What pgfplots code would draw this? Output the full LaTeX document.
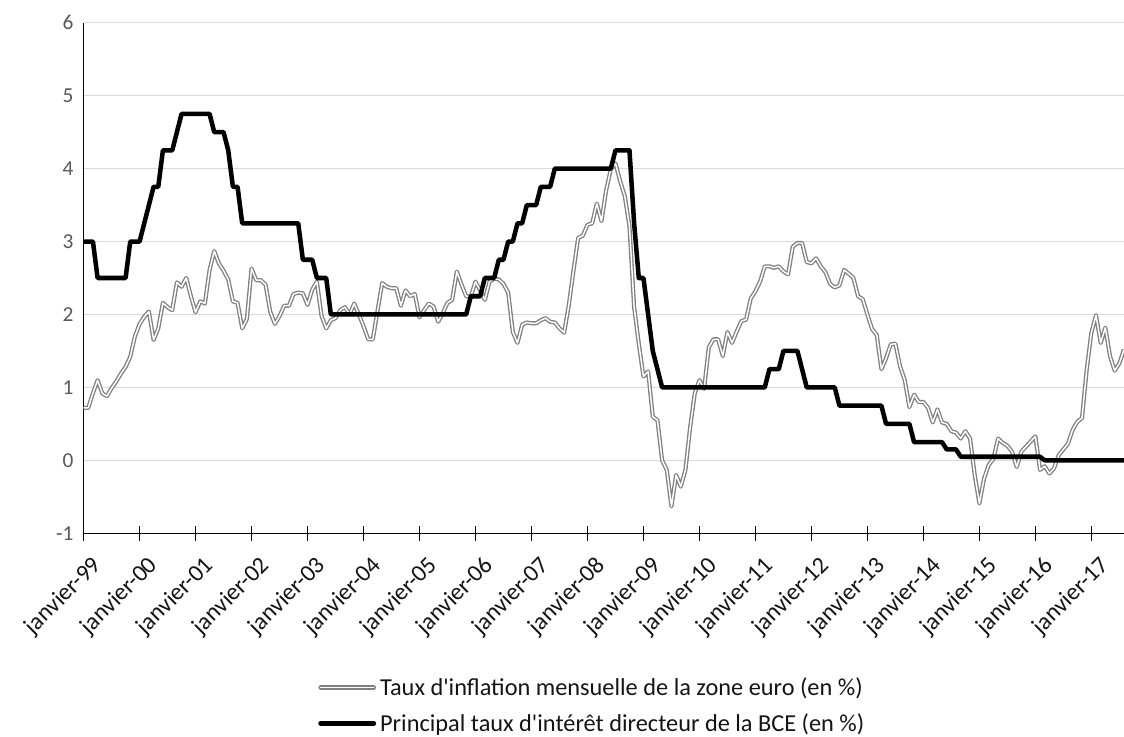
\documentclass[border=0pt]{standalone}
\usepackage{fontspec}
\setmainfont{Carlito}[Ligatures=TeXOff]
\usepackage{pgfplots}
\pgfplotsset{compat=1.18}
\usepackage{pgfplotstable}
\definecolor{infgray}{RGB}{128,128,128}
\definecolor{gridgray}{RGB}{217,217,217}
\definecolor{labgray}{RGB}{89,89,89}
\definecolor{textdark}{RGB}{20,20,20}

\pgfplotstableread{
m v
0 0.72
1 0.72
2 0.92
3 1.10
4 0.92
5 0.88
6 0.99
7 1.08
8 1.19
9 1.28
10 1.42
11 1.70
12 1.87
13 1.97
14 2.04
15 1.65
16 1.81
17 2.16
18 2.10
19 2.06
20 2.44
21 2.38
22 2.50
23 2.25
24 2.03
25 2.18
26 2.15
27 2.61
28 2.87
29 2.70
30 2.60
31 2.48
32 2.18
33 2.16
34 1.81
35 1.94
36 2.63
37 2.47
38 2.47
39 2.41
40 2.04
41 1.87
42 1.98
43 2.12
44 2.12
45 2.28
46 2.30
47 2.29
48 2.13
49 2.34
50 2.45
51 1.98
52 1.81
53 1.92
54 1.95
55 2.06
56 2.10
57 2.00
58 2.15
59 2.00
60 1.84
61 1.66
62 1.66
63 2.05
64 2.43
65 2.38
66 2.36
67 2.36
68 2.12
69 2.33
70 2.25
71 2.28
72 1.96
73 2.06
74 2.15
75 2.11
76 1.90
77 2.02
78 2.16
79 2.20
80 2.59
81 2.41
82 2.25
83 2.25
84 2.45
85 2.33
86 2.20
87 2.45
88 2.49
89 2.48
90 2.42
91 2.30
92 1.76
93 1.61
94 1.86
95 1.89
96 1.88
97 1.88
98 1.92
99 1.95
100 1.90
101 1.89
102 1.81
103 1.75
104 2.13
105 2.60
106 3.05
107 3.08
108 3.23
109 3.25
110 3.52
111 3.28
112 3.70
113 3.99
114 4.07
115 3.83
116 3.62
117 3.21
118 2.10
119 1.60
120 1.15
121 1.22
122 0.60
123 0.55
124 0.00
125 -0.13
126 -0.63
127 -0.20
128 -0.36
129 -0.13
130 0.45
131 0.92
132 1.10
133 0.98
134 1.55
135 1.66
136 1.66
137 1.43
138 1.76
139 1.61
140 1.77
141 1.91
142 1.93
143 2.22
144 2.32
145 2.45
146 2.66
147 2.66
148 2.64
149 2.66
150 2.59
151 2.55
152 2.93
153 2.98
154 2.98
155 2.72
156 2.70
157 2.77
158 2.66
159 2.58
160 2.42
161 2.37
162 2.40
163 2.61
164 2.56
165 2.50
166 2.25
167 2.21
168 2.00
169 1.80
170 1.72
171 1.25
172 1.40
173 1.59
174 1.60
175 1.29
176 1.10
177 0.73
178 0.90
179 0.80
180 0.80
181 0.72
182 0.52
183 0.70
184 0.52
185 0.50
186 0.40
187 0.38
188 0.30
189 0.40
190 0.30
191 -0.20
192 -0.59
193 -0.25
194 -0.06
195 0.02
196 0.30
197 0.24
198 0.20
199 0.12
200 -0.09
201 0.12
202 0.19
203 0.26
204 0.33
205 -0.13
206 -0.08
207 -0.18
208 -0.11
209 0.07
210 0.15
211 0.23
212 0.42
213 0.53
214 0.58
215 1.24
216 1.75
217 1.99
218 1.61
219 1.82
220 1.43
221 1.23
222 1.33
223 1.52
}\inflation

\pgfplotstableread{
m v
0 3.00
1 3.00
2 3.00
3 2.50
4 2.50
5 2.50
6 2.50
7 2.50
8 2.50
9 2.50
10 3.00
11 3.00
12 3.00
13 3.25
14 3.50
15 3.75
16 3.75
17 4.25
18 4.25
19 4.25
20 4.50
21 4.75
22 4.75
23 4.75
24 4.75
25 4.75
26 4.75
27 4.75
28 4.50
29 4.50
30 4.50
31 4.25
32 3.75
33 3.75
34 3.25
35 3.25
36 3.25
37 3.25
38 3.25
39 3.25
40 3.25
41 3.25
42 3.25
43 3.25
44 3.25
45 3.25
46 3.25
47 2.75
48 2.75
49 2.75
50 2.50
51 2.50
52 2.50
53 2.00
60 2.00
70 2.00
82 2.00
83 2.25
84 2.25
85 2.25
86 2.50
87 2.50
88 2.50
89 2.75
90 2.75
91 3.00
92 3.00
93 3.25
94 3.25
95 3.50
96 3.50
97 3.50
98 3.75
99 3.75
100 3.75
101 4.00
105 4.00
110 4.00
113 4.00
114 4.25
115 4.25
116 4.25
117 4.25
118 3.25
119 2.50
120 2.50
121 2.00
122 1.50
123 1.25
124 1.00
130 1.00
140 1.00
146 1.00
147 1.25
148 1.25
149 1.25
150 1.50
151 1.50
152 1.50
153 1.50
154 1.25
155 1.00
158 1.00
161 1.00
162 0.75
166 0.75
171 0.75
172 0.50
175 0.50
177 0.50
178 0.25
181 0.25
184 0.25
185 0.15
186 0.15
187 0.15
188 0.05
195 0.05
200 0.05
205 0.05
206 0.00
210 0.00
215 0.00
220 0.00
223 0.00
}\ecb

\begin{document}
\begin{tikzpicture}[x=1pt,y=1pt]
\path[use as bounding box] (0,0) rectangle (843,552);
\begin{axis}[
  at={(62.7pt,152pt)}, anchor=south west,
  scale only axis, width=780.3pt, height=383pt,
  xmin=0, xmax=223, ymin=-1, ymax=6,
  axis x line*=bottom, axis y line*=left,
  x axis line style={-, black, line width=1pt},
  y axis line style={-, black, line width=1pt},
  xtick={0,12,...,216},
  xticklabels={janvier-99,janvier-00,janvier-01,janvier-02,janvier-03,janvier-04,janvier-05,janvier-06,janvier-07,janvier-08,janvier-09,janvier-10,janvier-11,janvier-12,janvier-13,janvier-14,janvier-15,janvier-16,janvier-17},
  ytick={-1,0,...,6},
  ymajorgrids, grid style={gridgray, line width=0.9pt},
  xtick align=center, major tick length=11pt,
  x tick style={black, line width=1pt},
  y tick style={draw=none},
  /pgf/number format/assume math mode=true,
  yticklabel style={font=\fontsize{16}{19}\selectfont, text=labgray, xshift=-4pt},
  xticklabel style={font=\fontsize{18}{21}\selectfont, text=textdark, rotate=45, anchor=north east, inner sep=1pt, xshift=-2.6pt, yshift=-10pt},
  clip=true,
  legend cell align=left,
  legend style={at={(0.2253,-0.337)}, anchor=west, draw=none, fill=none,
    font=\fontsize{18.25}{21}\selectfont, text=textdark, row sep=11pt, inner sep=0pt,
    nodes={inner sep=0.5pt}},
  legend image code/.code={\draw[#1, line cap=round] (0pt,0pt) -- (40pt,0pt);},
]
\addplot[draw=infgray, double=white, double distance=1.1pt, line width=1pt, line join=round] table[x=m,y=v] {\inflation};
\addlegendentry{\hspace{2.5pt}Taux d'inflation mensuelle de la zone euro (en \%)}
\addplot[black, line width=3.4pt, line join=round] table[x=m,y=v] {\ecb};
\addlegendentry{\hspace{2.5pt}Principal taux d'intérêt directeur de la BCE (en \%)}
\end{axis}
\end{tikzpicture}
\end{document}
